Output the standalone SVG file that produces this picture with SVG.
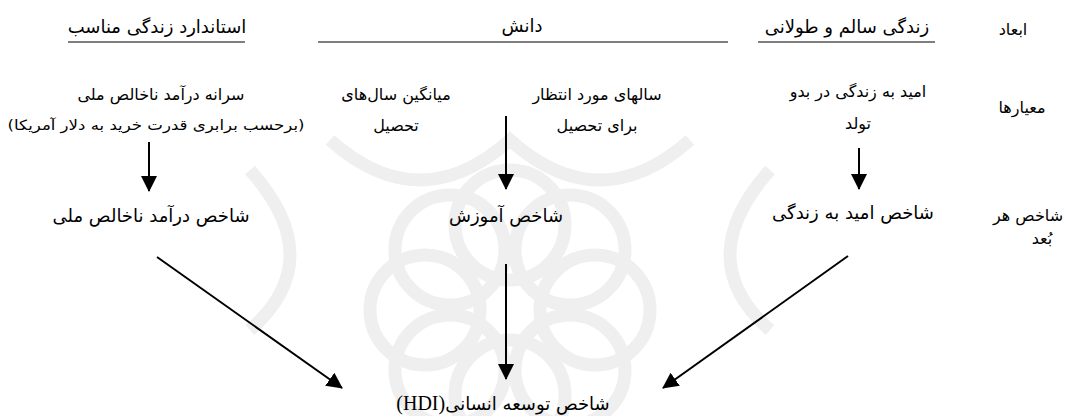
<svg xmlns="http://www.w3.org/2000/svg" width="1070" height="416" viewBox="0 0 1070 416">
<defs>
<style>
.t{font-family:"DejaVu Sans","Noto Sans",sans-serif;font-size:18px;fill:#000;text-anchor:middle;direction:rtl;unicode-bidi:embed}
.m{font-size:16px}
.s{font-size:14px}
.ser{font-family:"Liberation Serif",serif;font-size:20px}
.rule{stroke:#000;stroke-width:1.2}
.conn{stroke:#000;stroke-width:2;fill:none;marker-end:url(#ah)}
.wm{fill:none;stroke:#efefef;stroke-width:13}
</style>
<marker id="ah" markerUnits="userSpaceOnUse" markerWidth="16" markerHeight="16" viewBox="0 0 16 16" refX="15" refY="8" orient="auto">
<path d="M0,0 L16,8 L0,16 Z" fill="#000"/>
</marker>
</defs>
<rect width="1070" height="416" fill="#fff"/>
<g id="watermark">
<circle class="wm" cx="510" cy="225" r="55"/>
<circle class="wm" cx="510" cy="395" r="55"/>
<circle class="wm" cx="425" cy="310" r="55"/>
<circle class="wm" cx="595" cy="310" r="55"/>
<circle class="wm" cx="450" cy="250" r="55"/>
<circle class="wm" cx="570" cy="250" r="55"/>
<circle class="wm" cx="450" cy="370" r="55"/>
<circle class="wm" cx="570" cy="370" r="55"/>
<path class="wm" d="M250,170 Q330,260 250,330"/>
<path class="wm" d="M770,170 Q690,260 770,330"/>
<path class="wm" d="M330,140 Q420,220 510,140 Q600,220 690,140"/>
</g>
<g id="header-labels">
<g id="dim-label"><text class="t m" x="1013" y="35">ابعاد</text></g>
<g id="crit-label"><text class="t m" x="1022" y="113">معیارها</text></g>
<g id="idx-label"><text class="t m" x="1028" y="221">شاخص هر</text><text class="t m" x="1042" y="244">بُعد</text></g>
</g>
<g id="dim-living"><text class="t" x="157" y="33">استاندارد زندگی مناسب</text><line class="rule" x1="68" y1="42" x2="245" y2="42"/></g>
<g id="dim-knowledge"><text class="t" x="522" y="32">دانش</text><line class="rule" x1="318" y1="42" x2="728" y2="42"/></g>
<g id="dim-health"><text class="t" x="847" y="33">زندگی سالم و طولانی</text><line class="rule" x1="758" y1="42" x2="935" y2="42"/></g>
<g id="crit-gni"><text class="t m" x="161" y="100">سرانه درآمد ناخالص ملی</text><text class="t s" x="156" y="130" textLength="297" lengthAdjust="spacingAndGlyphs">(برحسب برابری قدرت خرید به دلار آمریکا)</text></g>
<g id="crit-mys"><text class="t m" x="396" y="100">میانگین سال‌های</text><text class="t m" x="396" y="131">تحصیل</text></g>
<g id="crit-eys"><text class="t m" x="597" y="100">سالهای مورد انتظار</text><text class="t m" x="597" y="131">برای تحصیل</text></g>
<g id="crit-life"><text class="t m" x="858" y="97">امید به زندگی در بدو</text><text class="t m" x="858" y="129">تولد</text></g>
<g id="idx-gni"><text class="t" x="151" y="222">شاخص درآمد ناخالص ملی</text></g>
<g id="idx-edu"><text class="t" x="506" y="222">شاخص آموزش</text></g>
<g id="idx-life"><text class="t" x="853" y="219">شاخص امید به زندگی</text></g>
<g id="hdi"><text class="t" x="503" y="410">شاخص توسعه انسانی<tspan class="ser">(HDI)</tspan></text></g>
<g id="connectors">
<line class="conn" x1="149" y1="142" x2="149" y2="191"/>
<line class="conn" x1="506" y1="116" x2="506" y2="189"/>
<line class="conn" x1="859" y1="148" x2="859" y2="189"/>
<line class="conn" x1="506" y1="264" x2="506" y2="379"/>
<line class="conn" x1="157" y1="257" x2="342" y2="388"/>
<line class="conn" x1="848" y1="256" x2="663" y2="388"/>
</g>
</svg>
